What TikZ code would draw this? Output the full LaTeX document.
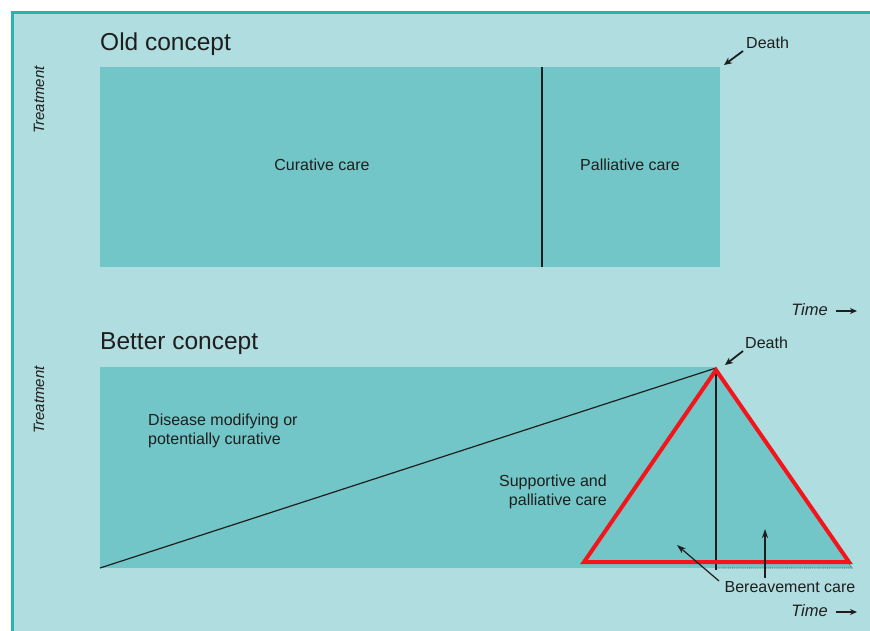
\documentclass[tikz,border=0pt]{standalone}
\usepackage{fontspec}
\setmainfont{Liberation Sans}
\usetikzlibrary{arrows.meta}
\definecolor{bgc}{HTML}{B0DDE0}
\definecolor{framec}{HTML}{2AB2AE}
\definecolor{boxc}{HTML}{72C6C7}
\definecolor{ink}{HTML}{1E1E1E}
\definecolor{redc}{HTML}{F2161C}
\tikzset{
  title/.style={font=\fontsize{24.5}{27}\selectfont, text=ink, inner sep=0pt, anchor=base west},
  lbl/.style={font=\fontsize{16}{19}\selectfont, text=ink, inner sep=0pt},
  axislbl/.style={font=\fontsize{15}{17}\selectfont\itshape, text=ink, inner sep=0pt, rotate=90},
  timelbl/.style={font=\fontsize{16.5}{18}\selectfont\itshape, text=ink, inner sep=0pt},
  deatharrow/.style={draw=ink, line width=1.8pt, -{Stealth[length=8pt,width=7pt]}},
  thinarrow/.style={draw=ink, line width=1.2pt, -{Stealth[length=9pt,width=6pt]}},
  timearrow/.style={draw=ink, line width=1.8pt, -{Stealth[length=7pt,width=6pt]}},
  boxstyle/.style={fill=boxc, draw=none},
}
\begin{document}
\begin{tikzpicture}[x=1pt,y=-1pt]
\useasboundingbox (0,0) rectangle (870,630);
\fill[white] (0,0) rectangle (870,630);
\fill[bgc] (12,12) rectangle (875,635);
\draw[framec, line width=3pt] (12,640) -- (12,12) -- (880,12);

% ---------- Old concept ----------
\node[title] (oldt) at (100,50) {Old concept};
\fill[boxstyle] (100,67) rectangle (720,267);
\coordinate (oldtop) at (542,67);
\coordinate (oldbot) at (542,267);
\draw[ink, line width=1.8pt] (oldtop) -- (oldbot);
\node[lbl] (cur) at (322,165) {Curative care};
\node[lbl] (pal) at (630,165) {Palliative care};
\node[axislbl] (tr1) at (39,100) {Treatment};
\node[lbl, anchor=west] (death1) at (746,43) {Death};
\coordinate (d1tail) at (743,51);
\coordinate (d1head) at (724,65);
\draw[deatharrow] (d1tail) -- (d1head);
\node[timelbl, anchor=east] (time1) at (828,310) {Time};
\coordinate (t1a) at (836,311);
\coordinate (t1b) at (857,311);
\draw[timearrow] (t1a) -- (t1b);

% ---------- Better concept ----------
\node[title] (newt) at (100,349) {Better concept};
\coordinate (bl) at (100,568);
\coordinate (apex) at (716,368);
\coordinate (vb) at (716,570);
\coordinate (tr) at (852,568);
\coordinate (trb) at (716,568);
\fill[boxstyle] (100,367) rectangle (716,568);
\fill[boxstyle] (apex) -- (tr) -- (trb) -- cycle;
\draw[ink!80, line width=0.9pt, densely dotted] (apex) -- (tr) -- (trb);
\draw[ink, line width=1.2pt] (bl) -- (apex);
\draw[ink, line width=1.6pt] (apex) -- (vb);
\node[lbl, align=left, anchor=west] (dis) at (148,431) {Disease modifying or\\potentially curative};
\node[lbl, align=right, anchor=east] (sup) at (607,492) {Supportive and\\palliative care};
\node[axislbl] (tr2) at (39,400) {Treatment};
\node[lbl, anchor=west] (death2) at (745,343) {Death};
\coordinate (d2tail) at (743,351);
\coordinate (d2head) at (725,365);
\draw[deatharrow] (d2tail) -- (d2head);

% red triangle
\coordinate (rl) at (584,562);
\coordinate (ra) at (716,370);
\coordinate (rr) at (849,562);
\draw[redc, line width=4pt, line join=miter] (rl) -- (ra) -- (rr) -- cycle;

\node[lbl] (ber) at (790,587) {Bereavement care};
\coordinate (b1tail) at (719,581);
\coordinate (b1head) at (677,545);
\coordinate (b2tail) at (765,578);
\coordinate (b2head) at (765,529);
\draw[thinarrow] (b1tail) -- (b1head);
\draw[thinarrow] (b2tail) -- (b2head);

\node[timelbl, anchor=east] (time2) at (828,611) {Time};
\coordinate (t2a) at (836,612);
\coordinate (t2b) at (857,612);
\draw[timearrow] (t2a) -- (t2b);
\end{tikzpicture}
\end{document}
